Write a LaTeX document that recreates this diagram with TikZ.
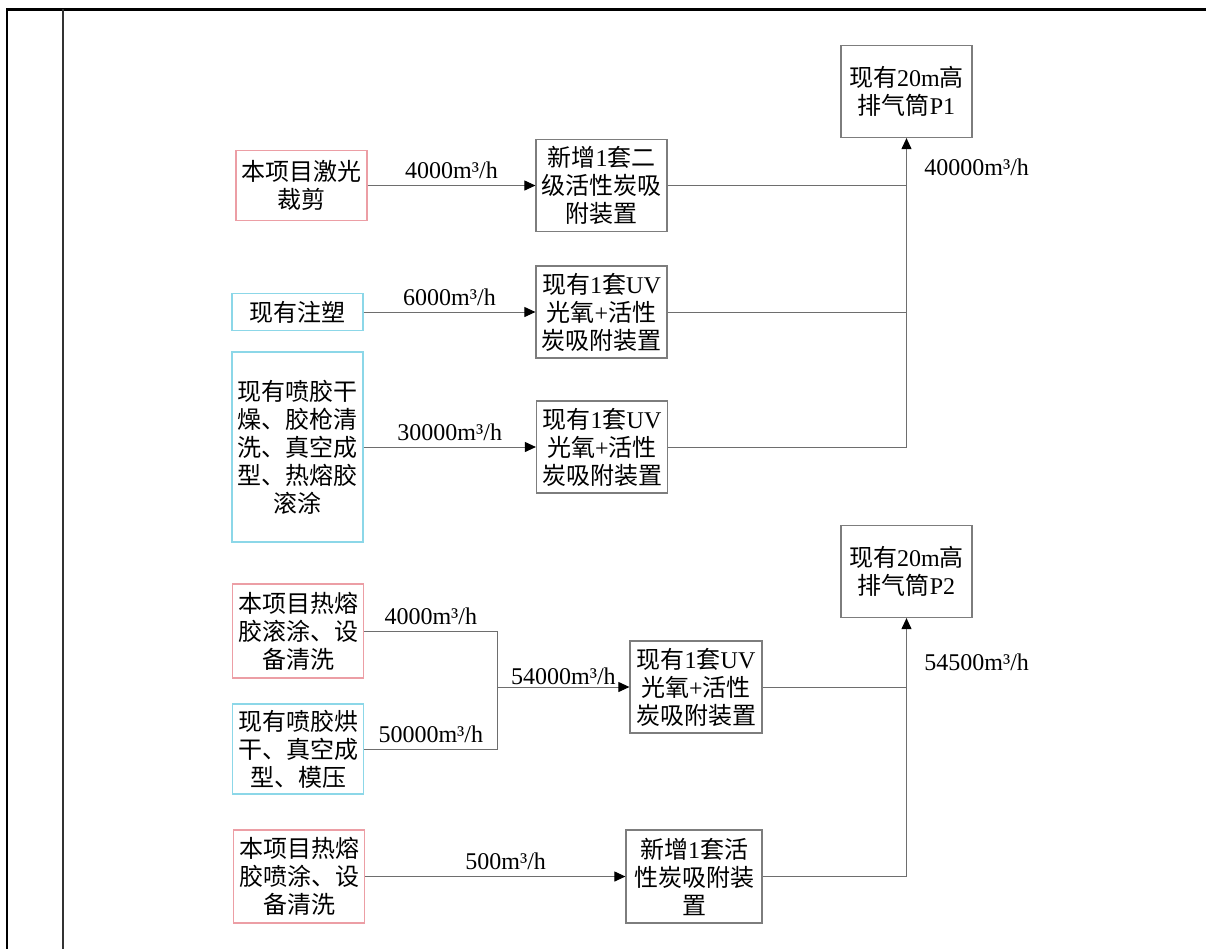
\documentclass[tikz,border=0pt]{standalone}
\usepackage{fontspec}
\setmainfont{Liberation Serif}
\newfontfamily\cjk{Noto Sans CJK SC}
\newcommand{\zh}[1]{{\cjk #1}}
\usepackage{tikz}
\usetikzlibrary{arrows}
\usetikzlibrary{arrows.meta}
\definecolor{redline}{RGB}{236,158,165}
\definecolor{cyanline}{RGB}{140,215,232}
\definecolor{grayline}{RGB}{125,125,125}
\definecolor{wireline}{RGB}{110,110,110}

\begin{document}
\begin{tikzpicture}[x=0.5pt,y=-0.5pt,>={Triangle[length=5.5pt,width=5pt,color=black]},
	box/.style={draw=grayline,line width=0.6pt,align=center,inner sep=0pt,font={\fontsize{12}{14}\selectfont}},
	src/.style={box,minimum width=65.5pt},
	dev/.style={box,minimum width=65.5pt,minimum height=46pt},
	lbl/.style={inner sep=3pt,font={\fontsize{12}{14}\selectfont}},
	wire/.style={draw=wireline,line width=0.5pt}]
\useasboundingbox (0,0) rectangle (1206,949);
% frame
\draw[line width=1.4pt] (6,9.5) -- (1206,9.5);
\draw[line width=1.3pt] (7,9) -- (7,949);
\draw[line width=0.8pt,black!80] (63,9) -- (63,949);
% upper group
\node[src,draw=redline,minimum height=35pt] (jg) at (301.5,185.5) {\zh{本项目激光}\\\zh{裁剪}};
\node[src,draw=cyanline,minimum height=18.5pt] (zs) at (297.5,312) {\zh{现有注塑}};
\node[src,draw=cyanline,minimum height=95pt] (pj) at (297.5,447) {\zh{现有喷胶干}\\\zh{燥、胶枪清}\\\zh{洗、真空成}\\\zh{型、热熔胶}\\\zh{滚涂}};
\node[dev] (xz1) at (601.5,185.5) {\zh{新增}1\zh{套二}\\\zh{级活性炭吸}\\\zh{附装置}};
\node[dev] (uv1) at (601.5,312) {\zh{现有}1\zh{套}UV\\\zh{光氧}+\zh{活性}\\\zh{炭吸附装置}};
\node[dev] (uv2) at (602,447) {\zh{现有}1\zh{套}UV\\\zh{光氧}+\zh{活性}\\\zh{炭吸附装置}};
\node[dev] (p1) at (906.5,91.5) {\zh{现有}20m\zh{高}\\\zh{排气筒}P1};
\draw[wire,->] (jg.east) -- (xz1.west) node[lbl,midway,above] (q11) {4000m³/h};
\draw[wire,->] (zs.east) -- (uv1.west) node[lbl,midway,above] (q12) {6000m³/h};
\draw[wire,->] (pj.east) -- (uv2.west) node[lbl,midway,above] (q13) {30000m³/h};
\draw[wire] (xz1.east) -- (xz1.east -| p1.south);
\draw[wire] (uv1.east) -- (uv1.east -| p1.south);
\draw[wire,->] (uv2.east) -| (p1.south);
\node[lbl,anchor=west] (q1) at (918,167) {40000m³/h};
% lower group
\node[src,draw=redline,minimum height=47pt] (rr) at (298,631) {\zh{本项目热熔}\\\zh{胶滚涂、设}\\\zh{备清洗}};
\node[src,draw=cyanline,minimum height=45pt] (hg) at (298,749) {\zh{现有喷胶烘}\\\zh{干、真空成}\\\zh{型、模压}};
\node[src,draw=redline,minimum height=46.5pt] (pt) at (299,876.5) {\zh{本项目热熔}\\\zh{胶喷涂、设}\\\zh{备清洗}};
\node[dev,minimum width=66pt] (uv3) at (696,687) {\zh{现有}1\zh{套}UV\\\zh{光氧}+\zh{活性}\\\zh{炭吸附装置}};
\node[dev,minimum width=68pt,minimum height=46.5pt] (xz2) at (694,876.5) {\zh{新增}1\zh{套活}\\\zh{性炭吸附装}\\\zh{置}};
\node[dev] (p2) at (906.5,571.5) {\zh{现有}20m\zh{高}\\\zh{排气筒}P2};
\coordinate (hb) at (497.5,687);
\draw[wire] (rr.east) -| (hb) node[lbl,pos=0.25,above] (q21) {4000m³/h};
\draw[wire] (hg.east) -| (hb) node[lbl,pos=0.25,above] (q22) {50000m³/h};
\draw[wire,->] (hb) -- (uv3.west) node[lbl,midway,above,inner sep=1pt] (q23) {54000m³/h};
\draw[wire,->] (pt.east) -- (xz2.west) node[lbl,pos=0.54,above] (q24) {500m³/h};
\draw[wire] (uv3.east) -- (uv3.east -| p2.south);
\draw[wire,->] (xz2.east) -| (p2.south);
\node[lbl,anchor=west] (q2) at (918,662) {54500m³/h};
\end{tikzpicture}
\end{document}
